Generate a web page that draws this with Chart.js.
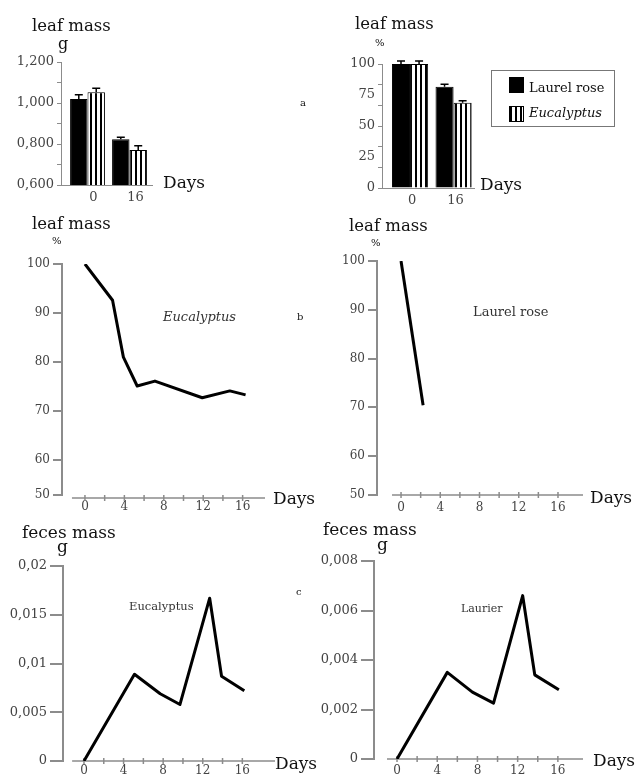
<!DOCTYPE html>
<html>
<head>
<meta charset="utf-8">
<script src="https://cdn.jsdelivr.net/npm/chart.js@4.4.1/dist/chart.umd.min.js"></script>
<style>
body { margin: 0; background: #fff; width: 638px; height: 778px; position: relative; overflow: hidden; font-family: "DejaVu Serif", serif; }
canvas { position: absolute; left: 0; top: 0; }
.t { position: absolute; white-space: nowrap; line-height: 1; color: #111; }
.s { color: #333; }
.legend { position: absolute; left: 491px; top: 70px; width: 122px; height: 55px; border: 1px solid #777; }
.sw { position: absolute; width: 13px; height: 14px; border: 1px solid #000; }
</style>
</head>
<body>
<canvas id="a1" width="638" height="778"></canvas>
<canvas id="a2" width="638" height="778"></canvas>
<canvas id="b1" width="638" height="778"></canvas>
<canvas id="b2" width="638" height="778"></canvas>
<canvas id="c1" width="638" height="778"></canvas>
<canvas id="c2" width="638" height="778"></canvas>

<div class="t" style="left:32px;top:18px;font-size:16.5px">leaf mass</div>
<div class="t" style="left:58px;top:36px;font-size:16px">g</div>
<div class="t" style="left:163px;top:174px;font-size:17px">Days</div>
<div class="t" style="left:300px;top:98px;font-size:10px">a</div>

<div class="t" style="left:355px;top:16px;font-size:16.5px">leaf mass</div>
<div class="t" style="left:375px;top:38px;font-size:10px">%</div>
<div class="t" style="left:480px;top:176px;font-size:17px">Days</div>
<div class="legend">
  <div class="sw" style="left:17px;top:6px;background:#000"></div>
  <div class="t" id="lg1" style="left:37px;top:10px;font-size:13px"></div>
  <div class="sw" style="left:17px;top:35px;background:repeating-linear-gradient(90deg,#000 0 2px,#fff 2px 5px)"></div>
  <div class="t" id="lg2" style="left:37px;top:35px;font-size:13px;font-style:italic"></div>
</div>

<div class="t" style="left:32px;top:216px;font-size:16.5px">leaf mass</div>
<div class="t" style="left:52px;top:236px;font-size:10px">%</div>
<div class="t s" style="left:163px;top:310px;font-size:13px;font-style:italic">Eucalyptus</div>
<div class="t" style="left:297px;top:312px;font-size:10px">b</div>
<div class="t" style="left:273px;top:490px;font-size:17px">Days</div>

<div class="t" style="left:349px;top:218px;font-size:16.5px">leaf mass</div>
<div class="t" style="left:371px;top:238px;font-size:10px">%</div>
<div class="t s" style="left:473px;top:305px;font-size:13px">Laurel rose</div>
<div class="t" style="left:590px;top:489px;font-size:17px">Days</div>

<div class="t" style="left:22px;top:524px;font-size:17px">feces mass</div>
<div class="t" style="left:57px;top:538px;font-size:17px">g</div>
<div class="t s" style="left:129px;top:601px;font-size:11.5px">Eucalyptus</div>
<div class="t" style="left:296px;top:587px;font-size:10px">c</div>
<div class="t" style="left:275px;top:755px;font-size:17px">Days</div>

<div class="t" style="left:323px;top:521px;font-size:17px">feces mass</div>
<div class="t" style="left:377px;top:536px;font-size:17px">g</div>
<div class="t s" style="left:461px;top:603px;font-size:11px">Laurier</div>
<div class="t" style="left:593px;top:752px;font-size:17px">Days</div>

<script>
// a: leaf mass at day 0 and day 16
const seriesNames = ['Laurel rose', 'Eucalyptus'];
const barDays = [0, 16];
const laurelMassG = [1.02, 0.823];
const laurelMassGErr = [0.02, 0.01];
const eucMassG = [1.052, 0.771];
const eucMassGErr = [0.02, 0.02];
const laurelMassPct = [100, 81.7];
const laurelMassPctErr = [2.5, 1.9];
const eucMassPct = [100, 68.8];
const eucMassPctErr = [2.5, 1.5];
const massGTicks = [0.6, 0.7, 0.8, 0.9, 1.0, 1.1, 1.2];
const massGLabels = [0.6, 0.8, 1.0, 1.2];
const pctMarks = [0, 16.7, 33.3, 50, 66.7, 83.3, 100];
const pctLabels = [0, 25, 50, 75, 100];

// b: leaf mass (%) over days
const eucLeafDays = [0, 2.8, 3.9, 5.3, 7.1, 11.9, 14.7, 16.3];
const eucLeafPct = [100, 92.6, 81, 75.1, 76.1, 72.7, 74.1, 73.3];
const laurelLeafDays = [0, 2.25];
const laurelLeafPct = [100, 70.4];
const leafPctTicks = [50, 60, 70, 80, 90, 100];

// c: feces mass (g) over days
const eucFecesDays = [0, 5.1, 7.7, 9.7, 12.7, 13.9, 16.2];
const eucFecesG = [0, 0.0089, 0.0069, 0.0058, 0.0167, 0.0087, 0.0072];
const laurelFecesDays = [0, 5.0, 7.5, 9.6, 12.5, 13.7, 16.1];
const laurelFecesG = [0, 0.0035, 0.0027, 0.00226, 0.0066, 0.0034, 0.0028];
const eucFecesTicks = [0, 0.005, 0.01, 0.015, 0.02];
const laurelFecesTicks = [0, 0.002, 0.004, 0.006, 0.008];

const dayTicks = [0, 4, 8, 12, 16];
const dayMinor = [0, 2, 4, 6, 8, 10, 12, 14, 16];

document.getElementById('lg1').textContent = seriesNames[0];
document.getElementById('lg2').textContent = seriesNames[1];

Chart.defaults.font.family = '"DejaVu Serif", serif';
Chart.defaults.color = '#444';
Chart.defaults.animation = false;

const W = 638, H = 778, YW = 60, XH = 24;
const AXIS = '#8c8c8c';

const pts = (xs, ys) => xs.map((x, i) => ({ x: x, y: ys[i] }));
const near = (arr, v) => arr.some(a => Math.abs(a - v) < 1e-6);

// put the chart area at fixed pixel coords on the page
function frame(a) {
  return { padding: { left: a.left - YW, top: a.top, right: W - a.right, bottom: H - a.bottom - XH } };
}

function stripes(id) {
  const tile = document.createElement('canvas');
  tile.width = 5; tile.height = 5;
  const g = tile.getContext('2d');
  g.fillStyle = '#fff'; g.fillRect(0, 0, 5, 5);
  g.fillStyle = '#000'; g.fillRect(0, 0, 2, 5);
  return document.getElementById(id).getContext('2d').createPattern(tile, 'repeat');
}

function yScale(min, max, ticks, label, tickLen, size, lw, markColor) {
  return {
    min: min, max: max,
    afterFit: s => { s.width = YW; },
    afterBuildTicks: s => { s.ticks = ticks.map(v => ({ value: Math.max(v, min) })); },
    border: { display: true, color: AXIS, width: lw },
    grid: { drawOnChartArea: false, color: AXIS, lineWidth: lw, tickLength: tickLen, tickColor: markColor || AXIS },
    ticks: { callback: label, font: { size: size }, padding: 3, color: '#444', autoSkip: false }
  };
}

function xScale(min, max, ticks, pad, size, border, shift) {
  return {
    type: 'linear', min: min, max: max, offset: false,
    afterFit: s => { s.height = XH; },
    afterBuildTicks: s => { s.ticks = ticks.map(v => ({ value: v })); },
    border: { display: border, color: AXIS, width: 1 },
    grid: { display: false, drawTicks: false, offset: false },
    ticks: { font: { size: size }, padding: pad, color: '#444', autoSkip: false, maxRotation: 0, labelOffset: shift || 0 }
  };
}

const errorBars = {
  id: 'errorBars',
  afterDatasetsDraw(chart) {
    const ctx = chart.ctx, y = chart.scales.y;
    chart.data.datasets.forEach((ds, i) => {
      chart.getDatasetMeta(i).data.forEach((bar, j) => {
        const top = y.getPixelForValue(ds.data[j].y + ds.err[j]);
        ctx.save();
        ctx.strokeStyle = '#000'; ctx.lineWidth = 1.5;
        ctx.beginPath();
        ctx.moveTo(bar.x, bar.y); ctx.lineTo(bar.x, top);
        ctx.moveTo(bar.x - 4, top); ctx.lineTo(bar.x + 4, top);
        ctx.stroke();
        ctx.restore();
      });
    });
  }
};

// separate day axis line with cross ticks, starting a bit right of the y axis
const dayAxis = {
  id: 'dayAxis',
  beforeDatasetsDraw(chart, args, o) {
    const x = chart.scales.x, a = chart.chartArea, ctx = chart.ctx;
    const yy = a.bottom + o.dy;
    ctx.save();
    ctx.strokeStyle = AXIS; ctx.lineWidth = 1.5;
    ctx.beginPath();
    ctx.moveTo(x.getPixelForValue(o.from), yy); ctx.lineTo(a.right, yy);
    dayMinor.forEach(v => {
      const px = x.getPixelForValue(v);
      ctx.moveTo(px, yy - 3); ctx.lineTo(px, yy + 3);
    });
    ctx.stroke();
    ctx.restore();
  }
};

function barChart(id, area, xr, shift, yS, laurel, laurelErr, euc, eucErr) {
  new Chart(document.getElementById(id), {
    type: 'bar',
    data: {
      datasets: [
        { label: seriesNames[0], data: pts(barDays, laurel), err: laurelErr, backgroundColor: '#000', borderColor: '#000', borderWidth: 1, categoryPercentage: 0.83, barPercentage: 1 },
        { label: seriesNames[1], data: pts(barDays, euc), err: eucErr, backgroundColor: stripes(id), borderColor: '#000', borderWidth: 1, categoryPercentage: 0.83, barPercentage: 1 }
      ]
    },
    options: {
      responsive: false, devicePixelRatio: 1,
      layout: frame(area),
      plugins: { legend: { display: false }, tooltip: { enabled: false } },
      scales: { x: xScale(xr[0], xr[1], barDays, 5, 13, true, shift), y: yS }
    },
    plugins: [errorBars]
  });
}

function lineChart(id, days, vals, area, xr, yS, from, dy, pad) {
  new Chart(document.getElementById(id), {
    type: 'line',
    data: { datasets: [{ data: pts(days, vals), borderColor: '#000', borderWidth: 3, pointRadius: 0, tension: 0, fill: false, borderJoinStyle: 'round' }] },
    options: {
      responsive: false, devicePixelRatio: 1,
      layout: frame(area),
      plugins: { legend: { display: false }, tooltip: { enabled: false }, dayAxis: { from: from, dy: dy } },
      scales: { x: xScale(xr[0], xr[1], dayTicks, pad, 12, false), y: yS }
    },
    plugins: [dayAxis]
  });
}

// a - leaf mass, g
barChart('a1', { left: 61, top: 62, right: 152, bottom: 185 }, [-10.1, 24.57], 6,
  yScale(0.6, 1.2, massGTicks, v => near(massGLabels, v) ? v.toFixed(3).replace('.', ',') : '', 4, 13, 1),
  laurelMassG, laurelMassGErr, eucMassG, eucMassGErr);

// a - leaf mass, %
const pctAll = pctMarks.concat(pctLabels.filter(v => !near(pctMarks, v))).sort((p, q) => p - q);
barChart('a2', { left: 382, top: 64, right: 474, bottom: 188 }, [-10.3, 23.5], 2,
  yScale(0, 100, pctAll, v => near(pctLabels, v) ? String(v) : '', 4, 13, 1,
    c => near(pctMarks, c.tick.value) ? AXIS : 'rgba(0,0,0,0)'),
  laurelMassPct, laurelMassPctErr, eucMassPct, eucMassPctErr);

// b - leaf mass % over time (axis broken below 60)
lineChart('b1', eucLeafDays, eucLeafPct, { left: 62, top: 264, right: 265, bottom: 495 }, [-2.33, 18.27],
  yScale(52.86, 100, leafPctTicks, (v, i) => String(leafPctTicks[i]), 9, 12, 2), -1.32, 3, 5);
lineChart('b2', laurelLeafDays, laurelLeafPct, { left: 377, top: 261, right: 583, bottom: 495 }, [-2.45, 18.55],
  yScale(52.0, 100, leafPctTicks, (v, i) => String(leafPctTicks[i]), 9, 12, 2), -0.92, 0, 6);

// c - feces mass over time
const comma = v => String(v).replace('.', ',');
lineChart('c1', eucFecesDays, eucFecesG, { left: 63, top: 566, right: 275, bottom: 761 }, [-2.12, 19.3],
  yScale(0, 0.02, eucFecesTicks, comma, 13, 13, 2), -1.2, 0, 3);
lineChart('c2', laurelFecesDays, laurelFecesG, { left: 374, top: 561, right: 583, bottom: 759 }, [-2.29, 18.5],
  yScale(0, 0.008, laurelFecesTicks, comma, 13, 13, 2), -1.0, 0, 5);
</script>
</body>
</html>
